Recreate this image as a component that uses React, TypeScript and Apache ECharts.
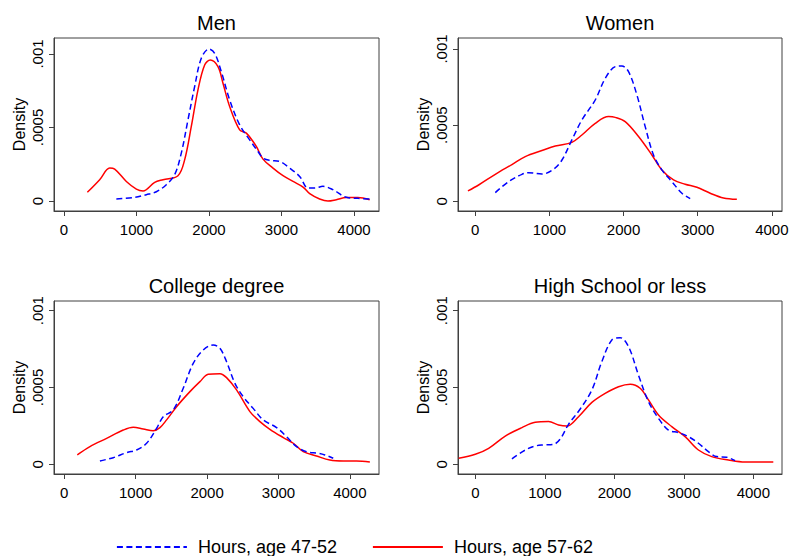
import React, { useEffect, useRef } from "react";
import * as echarts from "echarts";

const panelTitles = ["Men", "Women", "College degree", "High School or less"];
const seriesNames = ["Hours, age 47-52", "Hours, age 57-62"];
const xTicks = [0, 1000, 2000, 3000, 4000];
const xTickLabels = ["0", "1000", "2000", "3000", "4000"];
const yTicks = [0, 0.0005, 0.001];
const yTickLabels = ["0", ".0005", ".001"];

const menAge4752: [number, number][] = [
  [722, 0.000014], [952, 0.000023], [1136, 0.000043], [1274, 0.000063], [1411, 0.000111],
  [1526, 0.000179], [1618, 0.000326], [1710, 0.000552], [1802, 0.000778], [1894, 0.000971],
  [2000, 0.001034], [2078, 0.001005], [2170, 0.00088], [2285, 0.000688], [2423, 0.000518],
  [2561, 0.000416], [2676, 0.000337], [2745, 0.000292], [2837, 0.000276], [2975, 0.000269],
  [3113, 0.000224], [3251, 0.000167], [3366, 0.000088], [3457, 0.000088], [3572, 0.0001],
  [3710, 0.000077], [3894, 0.000025], [4055, 0.000018], [4216, 0.000014],
];
const menAge5762: [number, number][] = [
  [322, 0.000059], [492, 0.000145], [630, 0.000224], [699, 0.000217], [860, 0.000133],
  [998, 0.000081], [1090, 0.000068], [1251, 0.000127], [1366, 0.000145], [1572, 0.000172],
  [1664, 0.00028], [1756, 0.000507], [1848, 0.000756], [1940, 0.000925], [2018, 0.000959],
  [2124, 0.000914], [2193, 0.000801], [2285, 0.000643], [2423, 0.000484], [2515, 0.000462],
  [2653, 0.000371], [2745, 0.000285], [2883, 0.000224], [3021, 0.000172], [3159, 0.000133],
  [3297, 0.000095], [3389, 0.00005], [3526, 0.000014], [3641, 0], [3756, 0.000009],
  [3894, 0.000023], [4055, 0.000023], [4216, 0.000009],
];
const womenAge4752: [number, number][] = [
  [270, 0.000057], [449, 0.000129], [629, 0.000177], [719, 0.000188], [899, 0.000179],
  [1056, 0.00021], [1169, 0.000271], [1303, 0.000403], [1438, 0.000534], [1618, 0.000665],
  [1753, 0.000807], [1888, 0.000884], [1978, 0.000888], [2067, 0.000851], [2180, 0.000698],
  [2292, 0.00049], [2404, 0.000304], [2517, 0.000206], [2652, 0.000129], [2787, 0.000053],
  [2899, 0.000018],
];
const womenAge5762: [number, number][] = [
  [-99, 0.000068], [45, 0.000107], [270, 0.000177], [494, 0.000241], [674, 0.000293],
  [899, 0.000333], [1079, 0.000363], [1303, 0.000387], [1438, 0.000435], [1618, 0.000512],
  [1798, 0.000556], [1888, 0.000551], [2022, 0.000523], [2202, 0.000425], [2382, 0.000304],
  [2517, 0.000206], [2674, 0.00014], [2831, 0.000112], [2989, 0.000092], [3169, 0.000053],
  [3348, 0.000022], [3528, 0.000013],
];
const collegeAge4752: [number, number][] = [
  [499, 0.000022], [686, 0.000043], [873, 0.000076], [1013, 0.000093], [1153, 0.000137],
  [1293, 0.000234], [1386, 0.00031], [1526, 0.000354], [1666, 0.000495], [1806, 0.000657],
  [1946, 0.000744], [2086, 0.000777], [2180, 0.000755], [2273, 0.000668], [2390, 0.000527],
  [2506, 0.00044], [2646, 0.000364], [2786, 0.000289], [2973, 0.000239], [3113, 0.00018],
  [3253, 0.000115], [3393, 0.000082], [3557, 0.000072], [3650, 0.000061], [3767, 0.000039],
];
const collegeAge5762: [number, number][] = [
  [182, 0.000061], [359, 0.000115], [593, 0.000169], [826, 0.000223], [966, 0.000241],
  [1106, 0.00023], [1246, 0.000219], [1340, 0.000239], [1433, 0.000289], [1573, 0.000375],
  [1760, 0.000473], [1900, 0.000538], [2016, 0.000586], [2180, 0.00059], [2273, 0.000564],
  [2413, 0.000484], [2600, 0.000343], [2740, 0.000278], [2880, 0.000228], [3067, 0.000174],
  [3207, 0.000137], [3347, 0.000082], [3533, 0.000054], [3720, 0.000028], [3907, 0.000022],
  [4093, 0.000022], [4280, 0.000015],
];
const highSchoolAge4752: [number, number][] = [
  [527, 0.000035], [719, 0.000093], [862, 0.000119], [982, 0.000126], [1126, 0.00013],
  [1222, 0.000165], [1341, 0.00026], [1509, 0.00036], [1677, 0.000484], [1820, 0.000668],
  [1964, 0.000809], [2084, 0.000824], [2204, 0.000766], [2347, 0.000581], [2491, 0.000408],
  [2635, 0.000299], [2778, 0.000223], [2922, 0.000206], [3066, 0.00018], [3210, 0.000137],
  [3353, 0.000082], [3473, 0.00005], [3617, 0.000046], [3737, 0.000024],
];
const highSchoolAge5762: [number, number][] = [
  [-240, 0.000039], [0, 0.000065], [192, 0.000104], [431, 0.000184], [671, 0.000239],
  [862, 0.000273], [1054, 0.000278], [1198, 0.000256], [1317, 0.000249], [1485, 0.00031],
  [1677, 0.000403], [1868, 0.000462], [2060, 0.000505], [2228, 0.000521], [2371, 0.000495],
  [2491, 0.000419], [2635, 0.000321], [2826, 0.000245], [3018, 0.00018], [3210, 0.000093],
  [3401, 0.00005], [3641, 0.000028], [3880, 0.000015], [4287, 0.000015],
];

const seriesByPanel = [
  [menAge4752, menAge5762],
  [womenAge4752, womenAge5762],
  [collegeAge4752, collegeAge5762],
  [highSchoolAge4752, highSchoolAge5762],
];

// layout of each panel (pixels / axis extents)
const layouts = [
  { left: 54, top: 38, width: 325, height: 173, xMin: -138, xMax: 4345, yMin: -0.000068, yMax: 0.001109, titleTop: 13 },
  { left: 458, top: 38, width: 324, height: 173, xMin: -233, xMax: 4137, yMin: -0.0000637, yMax: 0.001072, titleTop: 13 },
  { left: 54, top: 301, width: 325, height: 173, xMin: -144, xMax: 4408, yMin: -0.0000632, yMax: 0.001063, titleTop: 276 },
  { left: 458, top: 301, width: 324, height: 173, xMin: -249, xMax: 4412, yMin: -0.0000632, yMax: 0.001063, titleTop: 276 },
];

const FONT = "'Liberation Sans', Arial, sans-serif";
const FRAME = "#404040";
const colors = ["#0000ff", "#ff0000"];
const lineTypes: any[] = [[6, 3.5], "solid"];

const labelFor = (ticks: number[], labels: string[]) => (v: number) => {
  const idx = ticks.findIndex((t) => Math.abs(t - v) < 1e-9);
  return idx >= 0 ? labels[idx] : "";
};

export default function App() {
  const ref = useRef<HTMLDivElement>(null);
  useEffect(() => {
    document.body.style.margin = "0";
    if (!ref.current) return;
    const chart = echarts.init(ref.current, undefined, { renderer: "svg" });
    const grids = layouts.map((l) => ({
      left: l.left, top: l.top, width: l.width, height: l.height,
      show: true, borderColor: FRAME, borderWidth: 1, backgroundColor: "transparent",
      containLabel: false, outerBoundsMode: "none",
    }));
    const xAxes = layouts.map((l, i) => ({
      type: "value", gridIndex: i, min: l.xMin, max: l.xMax,
      axisLine: { show: true, onZero: false, lineStyle: { color: FRAME, width: 1 } },
      axisTick: { show: true, length: 5, customValues: xTicks, lineStyle: { color: FRAME } },
      axisLabel: {
        customValues: xTicks, fontSize: 15, color: "#000", margin: 11, fontFamily: FONT,
        formatter: labelFor(xTicks, xTickLabels),
      },
      splitLine: { show: false },
    }));
    const yAxes = layouts.map((l, i) => ({
      type: "value", gridIndex: i, min: l.yMin, max: l.yMax,
      name: "Density", nameLocation: "middle", nameGap: 27, nameRotate: 90, nameMoveOverlap: false,
      nameTextStyle: { fontSize: 16, color: "#000", fontFamily: FONT },
      axisLine: { show: true, onZero: false, lineStyle: { color: FRAME, width: 1 } },
      axisTick: { show: true, length: 5, customValues: yTicks, lineStyle: { color: FRAME } },
      axisLabel: {
        customValues: yTicks, rotate: 90, fontSize: 15, color: "#000", margin: 9, fontFamily: FONT,
        formatter: labelFor(yTicks, yTickLabels),
      },
      splitLine: { show: false },
    }));
    const titles = layouts.map((l, i) => ({
      text: panelTitles[i], left: l.left + l.width / 2, top: l.titleTop, textAlign: "center", padding: 0,
      textStyle: { fontSize: 20, fontWeight: "normal", color: "#000", fontFamily: FONT },
    }));
    const series: any[] = [];
    seriesByPanel.forEach((pair, i) => {
      pair.forEach((d, k) => {
        series.push({
          type: "line", name: seriesNames[k], xAxisIndex: i, yAxisIndex: i, data: d,
          showSymbol: false, symbol: "none", smooth: 0.35,
          lineStyle: { color: colors[k], width: 1.5, type: lineTypes[k] },
          itemStyle: { color: colors[k] },
          z: k === 0 ? 3 : 2,
        });
      });
    });
    chart.setOption({
      animation: false,
      textStyle: { fontFamily: FONT },
      title: titles,
      grid: grids,
      xAxis: xAxes,
      yAxis: yAxes,
      legend: {
        data: seriesNames, left: 116, top: 538, padding: 0, itemWidth: 70, itemHeight: 14, itemGap: 35,
        textStyle: { fontSize: 18, color: "#000", fontFamily: FONT, padding: [0, 0, 0, 6] },
        itemStyle: { opacity: 0 },
        lineStyle: { width: 1.8 },
        selectedMode: false,
      },
      series,
    });
    return () => chart.dispose();
  }, []);
  return <div ref={ref} style={{ width: 791, height: 556 }} />;
}
